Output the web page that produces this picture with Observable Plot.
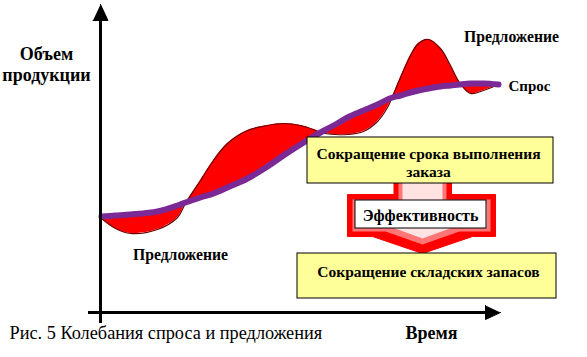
<!DOCTYPE html>
<html><head><meta charset="utf-8">
<script src="https://cdn.jsdelivr.net/npm/d3@7"></script>
<script src="https://cdn.jsdelivr.net/npm/@observablehq/plot@0.6"></script>
<style>
html,body{margin:0;padding:0;background:#fff;}
svg{display:block}
svg text{font-family:"Liberation Serif","Times New Roman",serif !important;}
</style>
</head><body><div id="chart"></div>
<script>
// Time (abstract units) and volume (abstract units)
const time   = [1, 15, 30, 57, 77, 85, 100, 113, 127, 147, 167, 183, 200, 213, 220, 235, 247, 263, 277, 287, 292, 300, 310, 318, 328, 340, 350, 359, 370, 383, 398];
const demand = [96, 97, 98, 101, 107, 110, 115, 119, 125, 134, 146, 157, 168, 176, 180, 188, 195, 202, 208, 213, 215, 217, 220, 222, 224, 226, 227, 228, 229, 229, 228];
const supply = [94, 84, 79, 83, 95, 109, 132, 152, 169, 182, 187, 189, 187, 183, 180, 178, 178, 181, 191, 205, 216, 235, 257, 269, 273, 264, 247, 230, 219, 222, 228];

const yTitle = "Объем\nпродукции";
const xTitle = "Время";
const caption = "Рис. 5 Колебания спроса и предложения";
const supplyLabel = "Предложение";
const demandLabel = "Спрос";
const boxTop = "Сокращение срока выполнения\nзаказа";
const boxMid = "Эффективность";
const boxBottom = "Сокращение складских запасов";

const rows = time.map((t, i) => ({t, demand: demand[i], supply: supply[i]}));
const serif = "Liberation Serif";

const yArrow = [{x: -7.5, y: 292}, {x: 7.5, y: 292}, {x: 0, y: 308}];
const xArrow = [{x: 385, y: 7}, {x: 385, y: -7}, {x: 400, y: 0}];
const poly = (pts) => pts.map(([x, y]) => ({x, y}));
const arrowOuter = poly([[293,132],[351,132],[351,118],[395,118],[395,76],[372,76],[322,59],[272,76],[247,76],[247,118],[293,118]]);
const arrowMid   = poly([[298,132],[346,132],[346,113],[390,113],[390,81],[359,81],[322,68],[285,81],[252,81],[252,113],[298,113]]);
const arrowInner = poly([[302,132],[342,132],[342,109],[386,109],[386,85],[352,85],[322,74],[292,85],[256,85],[256,109],[302,109]]);

const bold = {fontFamily: serif, fontWeight: "bold", fill: "#000"};

const chart = Plot.plot({
  width: 587, height: 357,
  marginLeft: 100, marginRight: 87, marginTop: 12, marginBottom: 45,
  x: {domain: [0, 400], axis: null},
  y: {domain: [0, 300], axis: null},
  style: {background: "#fff", overflow: "visible"},
  marks: [
    // fluctuation area
    Plot.areaY(rows, {x: "t", y1: "demand", y2: "supply", fill: "#ff0000", curve: "catmull-rom"}),
    Plot.line(rows, {x: "t", y: "supply", stroke: "#6b0000", strokeWidth: 1.2, curve: "catmull-rom"}),
    Plot.line(rows, {x: "t", y: "demand", stroke: "#7b2a95", strokeWidth: 6, curve: "catmull-rom", strokeLinecap: "round"}),
    // axes
    Plot.ruleX([0], {y1: -11, y2: 294, stroke: "#000", strokeWidth: 3}),
    Plot.ruleY([0], {x1: -12, x2: 387, stroke: "#000", strokeWidth: 3}),
    Plot.line(yArrow, {x: "x", y: "y", fill: "#000", stroke: "#000", strokeWidth: 1}),
    Plot.line(xArrow, {x: "x", y: "y", fill: "#000", stroke: "#000", strokeWidth: 1}),
    // effectiveness arrow
    Plot.line(arrowOuter, {x: "x", y: "y", fill: "#ff0000", stroke: "#ff0000", strokeWidth: 1}),
    Plot.line(arrowMid, {x: "x", y: "y", fill: "#ff7676", stroke: "none"}),
    Plot.line(arrowInner, {x: "x", y: "y", fill: "#ffe2e2", stroke: "none"}),
    Plot.rect([0], {x1: 255, x2: 386, y1: 84, y2: 112, fill: "#fff", stroke: "#000", strokeWidth: 1}),
    Plot.text([boxMid], {x: 320, y: 97, text: d => d, fontSize: 16, ...bold}),
    // boxes
    Plot.rect([0], {x1: 207, x2: 453, y1: 129, y2: 175, fill: "#ffff99", stroke: "#000", strokeWidth: 1}),
    Plot.text([boxTop], {x: 328, y: 150, text: d => d, fontSize: 15.5, lineHeight: 1.17, ...bold}),
    Plot.rect([0], {x1: 197, x2: 456, y1: 14, y2: 59, fill: "#ffff99", stroke: "#000", strokeWidth: 1}),
    Plot.text([boxBottom], {x: 328, y: 40, text: d => d, fontSize: 15.5, ...bold}),
    // labels
    Plot.text([yTitle], {x: -54, y: 249, text: d => d, fontSize: 18, lineHeight: 1.2, ...bold}),
    Plot.text([xTitle], {x: 331, y: -21, text: d => d, fontSize: 18, ...bold}),
    Plot.text([caption], {x: -91, y: -21, text: d => d, textAnchor: "start", fontFamily: serif, fontSize: 18.3, fill: "#000"}),
    Plot.text([supplyLabel], {x: 80, y: 58, text: d => d, fontSize: 15.7, ...bold}),
    Plot.text([supplyLabel], {x: 411, y: 276, text: d => d, fontSize: 15.7, ...bold}),
    Plot.text([demandLabel], {x: 408, y: 226, text: d => d, textAnchor: "start", fontSize: 15, ...bold})
  ]
});
document.getElementById("chart").appendChild(chart);
</script>
</body></html>
